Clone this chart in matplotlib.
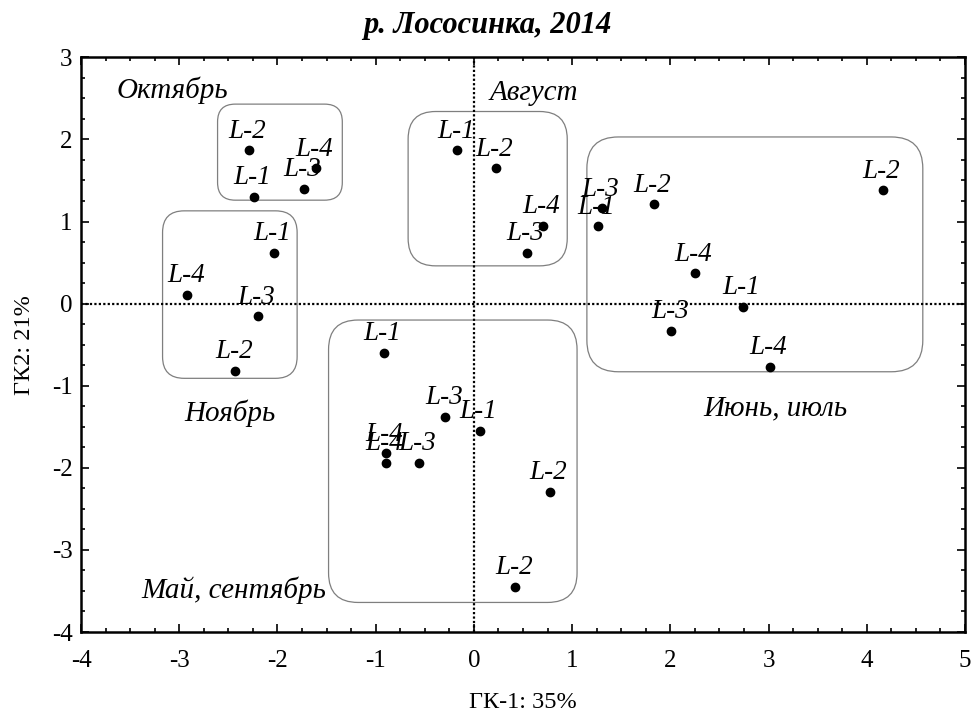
import matplotlib
matplotlib.use('Agg')
import matplotlib.pyplot as plt
from matplotlib.patches import FancyBboxPatch
from matplotlib.ticker import MultipleLocator

plt.rcParams['font.family'] = ['Liberation Serif', 'DejaVu Serif']
plt.rcParams['axes.unicode_minus'] = False

# PCA scores by sampling site
site = ['L-2', 'L-1', 'L-3', 'L-4',
        'L-1', 'L-4', 'L-3', 'L-2',
        'L-1', 'L-2', 'L-3', 'L-4',
        'L-2', 'L-3', 'L-1', 'L-2', 'L-4', 'L-1', 'L-3', 'L-4',
        'L-1', 'L-3', 'L-1', 'L-4', 'L-4', 'L-3', 'L-2', 'L-2']
pc1 = [-2.29, -2.24, -1.73, -1.61,
       -2.04, -2.92, -2.20, -2.43,
       -0.17, 0.22, 0.54, 0.70,
       4.16, 1.30, 1.26, 1.83, 2.25, 2.74, 2.01, 3.01,
       -0.92, -0.29, 0.06, -0.90, -0.90, -0.56, 0.77, 0.42]
pc2 = [1.87, 1.30, 1.40, 1.65,
       0.62, 0.11, -0.155, -0.82,
       1.87, 1.65, 0.62, 0.95,
       1.38, 1.16, 0.94, 1.21, 0.37, -0.04, -0.33, -0.77,
       -0.60, -1.38, -1.55, -1.82, -1.94, -1.94, -2.29, -3.45]

# month groups
group_names = ['Октябрь', 'Ноябрь', 'Август', 'Июнь, июль', 'Май, сентябрь']
group_text_x = [-3.07, -2.48, 0.61, 3.07, -2.45]
group_text_y = [2.60, -1.33, 2.56, -1.28, -3.49]
# boxes: x0, x1, y0, y1, corner radius (x units)
group_boxes = [(-2.61, -1.34, 1.26, 2.43, 0.18),
               (-3.17, -1.80, -0.91, 1.13, 0.22),
               (-0.67, 0.95, 0.46, 2.34, 0.28),
               (1.15, 4.57, -0.83, 2.03, 0.32),
               (-1.48, 1.05, -3.64, -0.20, 0.30)]

fig = plt.figure(figsize=(9.74, 7.13), dpi=100)
ax = fig.add_axes([0.0832, 0.1136, 0.9076, 0.806])

ax.set_xlim(-4, 5)
ax.set_ylim(-4, 3)
aspect = (0.9076 * 974 / 9) / (0.806 * 713 / 7)

for x0, x1, y0, y1, r in group_boxes:
    box = FancyBboxPatch((x0, y0), x1 - x0, y1 - y0,
                         boxstyle='round,pad=0,rounding_size=%g' % r,
                         mutation_aspect=aspect,
                         fc='none', ec='#7f7f7f', lw=0.9, zorder=1)
    ax.add_patch(box)

ax.axhline(0, color='black', ls=(0, (1, 1)), lw=1.6, zorder=2)
ax.axvline(0, color='black', ls=(0, (1, 1)), lw=1.6, zorder=2)

ax.scatter(pc1, pc2, s=36, color='black', zorder=3)
for x, y, s in zip(pc1, pc2, site):
    ax.annotate(s, (x, y), xytext=(-1, 9), textcoords='offset points',
                ha='center', va='baseline', fontsize=19.5, style='italic', zorder=4)

for name, x, y in zip(group_names, group_text_x, group_text_y):
    ax.text(x, y, name, ha='center', va='center', fontsize=21, style='italic')

ax.xaxis.set_major_locator(MultipleLocator(1))
ax.yaxis.set_major_locator(MultipleLocator(1))
ax.xaxis.set_minor_locator(MultipleLocator(0.25))
ax.yaxis.set_minor_locator(MultipleLocator(0.25))
ax.tick_params(which='both', direction='in', top=True, right=True,
               labelsize=18, width=1.2)
ax.tick_params(which='major', length=6)
ax.tick_params(axis='x', which='major', pad=13)
ax.tick_params(axis='y', which='major', pad=6)
ax.tick_params(which='minor', length=3)
for sp in ax.spines.values():
    sp.set_linewidth(1.8)

ax.set_xlabel('ГК-1: 35%', fontsize=17.5, labelpad=14)
ax.set_ylabel('ГК2: 21%', fontsize=17.5, labelpad=12)
fig.text(0.5, 1 - 25 / 713, 'р. Лососинка, 2014', ha='center', va='center',
         fontsize=22, fontweight='bold', style='italic')

plt.savefig('out.png', dpi=100)
